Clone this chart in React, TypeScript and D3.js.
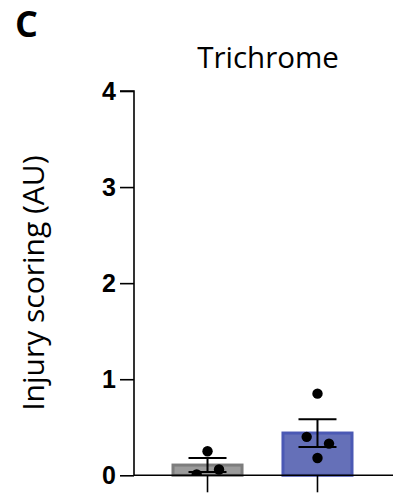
import React, { useRef, useEffect } from 'react';
import * as d3 from 'd3';

// data
const groups = ['Control', 'Treated'];
const controlScores = [0.25, 0.06, 0.01];
const treatedScores = [0.85, 0.4, 0.33, 0.18];
// horizontal scatter of the dots, as a fraction of the bar width
const controlJitter = [0, 0.16, -0.15];
const treatedJitter = [0, -0.15, 0.16, 0];
const yTicks = [0, 1, 2, 3, 4];
const barColors = ['#9b9b9b', '#6570b8'];
const barStrokes = ['#7d7d7d', '#4b59b4'];

const W = 393;
const H = 497;

const mean = (v: number[]) => d3.mean(v) as number;
const sem = (v: number[]) => (d3.deviation(v) as number) / Math.sqrt(v.length);

const App: React.FC = () => {
  const svgRef = useRef<SVGSVGElement>(null);

  useEffect(() => {
    document.body.style.margin = '0';
    if (!svgRef.current) return;
    const svg = d3.select(svgRef.current);
    svg.selectAll('*').remove();

    const series = [
      { name: groups[0], values: controlScores, jitter: controlJitter },
      { name: groups[1], values: treatedScores, jitter: treatedJitter },
    ];

    const axisX = 134;
    const y = d3.scaleLinear().domain([0, 4]).range([475.3, 91]);
    const x = d3.scaleBand<string>()
      .domain(groups)
      .range([171.5, 353.5])
      .paddingInner(0.345);
    const bw = x.bandwidth();

    svg.append('defs').append('clipPath').attr('id', 'plotClip')
      .append('rect')
      .attr('x', axisX).attr('y', 0)
      .attr('width', W - axisX).attr('height', y(0));

    // bars
    svg.append('g').selectAll('rect')
      .data(series)
      .enter().append('rect')
      .attr('x', d => (x(d.name) as number) + 1.5)
      .attr('width', bw - 3)
      .attr('y', d => y(mean(d.values)))
      .attr('height', d => y(0) - y(mean(d.values)))
      .attr('fill', (d, i) => barColors[i])
      .attr('stroke', (d, i) => barStrokes[i])
      .attr('stroke-width', 3);

    // individual points
    const pts = svg.append('g').attr('clip-path', 'url(#plotClip)');
    series.forEach(s => {
      const cx = (x(s.name) as number) + bw / 2;
      pts.selectAll(null)
        .data(s.values)
        .enter().append('circle')
        .attr('cx', (d, i) => cx + s.jitter[i] * bw)
        .attr('cy', d => y(d))
        .attr('r', 5.2)
        .attr('fill', '#000');
    });

    // error bars (mean ± SEM)
    const capHalf = 19;
    const err = svg.append('g').attr('stroke', '#000').attr('stroke-width', 2);
    series.forEach(s => {
      const cx = (x(s.name) as number) + bw / 2;
      const m = mean(s.values);
      const e = sem(s.values);
      err.append('line').attr('x1', cx).attr('x2', cx).attr('y1', y(m + e)).attr('y2', y(m - e));
      [m + e, m - e].forEach(v => {
        err.append('line')
          .attr('x1', cx - capHalf).attr('x2', cx + capHalf)
          .attr('y1', y(v)).attr('y2', y(v));
      });
    });

    // y axis (labels drawn by hand so the font sticks)
    const yAxis = svg.append('g')
      .attr('transform', `translate(${axisX},0)`)
      .call(d3.axisLeft(y).tickValues(yTicks).tickSize(14).tickFormat(() => ''));
    yAxis.select('.domain').attr('stroke', '#000').attr('stroke-width', 1.6)
      .attr('d', `M-14,${y(4)}H0V${y(0)}`);
    yAxis.selectAll('.tick line').attr('stroke', '#000').attr('stroke-width', 1.6);

    svg.append('g').selectAll('text')
      .data(yTicks)
      .enter().append('text')
      .attr('x', axisX - 18)
      .attr('y', d => y(d))
      .attr('dy', '0.36em')
      .attr('text-anchor', 'end')
      .style('font-family', '"Liberation Sans", Arial, sans-serif')
      .style('font-weight', 'bold')
      .style('font-size', '25px')
      .attr('fill', '#000')
      .text(d => d3.format('d')(d));

    // x axis
    const xAxis = svg.append('g')
      .attr('transform', `translate(0,${y(0)})`)
      .call(d3.axisBottom(x).tickSize(17).tickFormat(() => ''));
    xAxis.select('.domain').attr('stroke', '#000').attr('stroke-width', 1.6)
      .attr('d', `M${axisX},0H${W}`);
    xAxis.selectAll('.tick line').attr('stroke', '#000').attr('stroke-width', 1.6);

    // titles
    svg.append('text')
      .attr('x', 268).attr('y', 68)
      .attr('text-anchor', 'middle')
      .style('font-family', '"Open Sans", sans-serif')
      .style('font-size', '29.5px')
      .text('Trichrome');

    svg.append('text')
      .attr('transform', `translate(44,${(y(0) + y(4)) / 2}) rotate(-90)`)
      .attr('text-anchor', 'middle')
      .style('font-family', '"Open Sans", sans-serif')
      .style('font-size', '30px')
      .text('Injury scoring (AU)');

    svg.append('text')
      .attr('x', 15).attr('y', 37)
      .style('font-family', '"Open Sans", sans-serif')
      .style('font-weight', 'bold')
      .style('font-size', '36px')
      .text('C');
  }, []);

  return (
    <div style={{ width: W, height: H }}>
      <svg ref={svgRef} width={W} height={H} style={{ display: 'block', background: '#fff' }}></svg>
    </div>
  );
};

export default App;
